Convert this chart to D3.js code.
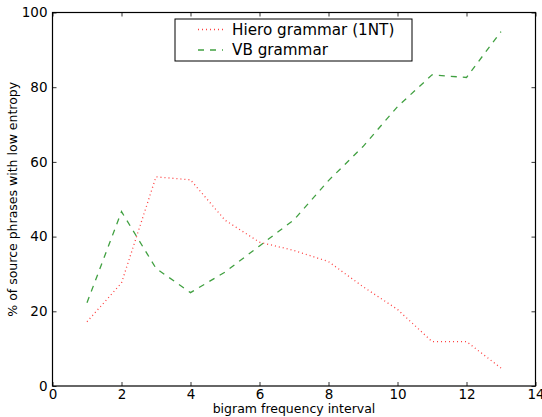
<!DOCTYPE html>
<meta charset="utf-8">
<style>
body { margin: 0; background: #fff; }
text { font-family: "DejaVu Sans", sans-serif; fill: #000; }
.line { fill: none; }
</style>
<svg width="542" height="417"></svg>
<script src="https://cdn.jsdelivr.net/npm/d3@7"></script>
<script>

var intervals = [1, 2, 3, 4, 5, 6, 7, 8, 9, 10, 11, 12, 13];
var hiero = [17.2, 27.6, 56, 55.2, 44.4, 38.5, 36.3, 33.3, 26.6, 20.5, 11.9, 11.9, 4.8];
var vb = [22.3, 46.7, 31.5, 25, 30.5, 37.5, 44.5, 55, 64.1, 74.8, 83.3, 82.6, 94.9];
var xTicks = [0, 2, 4, 6, 8, 10, 12, 14];
var yTicks = [0, 20, 40, 60, 80, 100];

var series = [
  {name: "Hiero grammar (1NT)", values: hiero, color: "#ff0000", dash: "1,3", opacity: 0.75},
  {name: "VB grammar", values: vb, color: "#008000", dash: "6,6", opacity: 0.75}
];

var svg = d3.select("svg"),
    margin = {top: 12.5, right: 6.5, bottom: 31, left: 52.5},
    width = svg.attr("width") - margin.left - margin.right,
    height = svg.attr("height") - margin.top - margin.bottom,
    g = svg.append("g").attr("transform", "translate(" + margin.left + "," + margin.top + ")");

var x = d3.scaleLinear().domain([0, 14]).range([0, width]),
    y = d3.scaleLinear().domain([0, 100]).range([height, 0]);

// ticks point inward on all four sides, like matplotlib classic
function styleAxis(sel) {
  sel.select(".domain").remove();
  sel.selectAll("line").attr("stroke", "#000").attr("stroke-width", 0.8);
  sel.selectAll("text").style("font-size", "13.5px");
}

g.append("g")
    .attr("transform", "translate(0," + height + ")")
    .call(d3.axisBottom(x).tickValues(xTicks).tickSize(-4).tickPadding(3))
    .call(styleAxis);

g.append("g")
    .call(d3.axisTop(x).tickValues(xTicks).tickSize(-4).tickFormat(""))
    .call(styleAxis);

g.append("g")
    .call(d3.axisLeft(y).tickValues(yTicks).tickSize(-4).tickPadding(5))
    .call(styleAxis);

g.append("g")
    .attr("transform", "translate(" + width + ",0)")
    .call(d3.axisRight(y).tickValues(yTicks).tickSize(-4).tickFormat(""))
    .call(styleAxis);

var line = d3.line()
    .x(function(d, i) { return x(intervals[i]); })
    .y(function(d) { return y(d); });

g.selectAll(".line")
  .data(series)
  .enter().append("path")
    .attr("class", "line")
    .attr("d", function(d) { return line(d.values); })
    .attr("stroke", function(d) { return d.color; })
    .attr("stroke-opacity", function(d) { return d.opacity; })
    .attr("stroke-width", 1.3)
    .attr("stroke-dasharray", function(d) { return d.dash; });

// frame
g.append("rect")
    .attr("width", width)
    .attr("height", height)
    .attr("fill", "none")
    .attr("stroke", "#000")
    .attr("stroke-width", 1.2);

// axis labels
g.append("text")
    .attr("x", width / 2)
    .attr("y", height + 27)
    .attr("text-anchor", "middle")
    .style("font-size", "12.5px")
    .text("bigram frequency interval");

g.append("text")
    .attr("transform", "rotate(-90)")
    .attr("x", -height / 2)
    .attr("y", -35.5)
    .attr("text-anchor", "middle")
    .style("font-size", "12.5px")
    .text("% of source phrases with low entropy");

// legend
var legend = svg.append("g").attr("transform", "translate(175,19)");

legend.append("rect")
    .attr("width", 237)
    .attr("height", 42)
    .attr("fill", "#fff")
    .attr("stroke", "#000")
    .attr("stroke-width", 1);

var item = legend.selectAll(".item")
  .data(series)
  .enter().append("g")
    .attr("class", "item")
    .attr("transform", function(d, i) { return "translate(0," + (10.5 + i * 20.5) + ")"; });

item.append("line")
    .attr("x1", 23)
    .attr("x2", 48)
    .attr("stroke", function(d) { return d.color; })
    .attr("stroke-opacity", function(d) { return d.opacity; })
    .attr("stroke-width", 1.3)
    .attr("stroke-dasharray", function(d) { return d.dash; });

item.append("text")
    .attr("x", 57)
    .attr("dy", "0.35em")
    .style("font-size", "15.2px")
    .text(function(d) { return d.name; });

</script>
